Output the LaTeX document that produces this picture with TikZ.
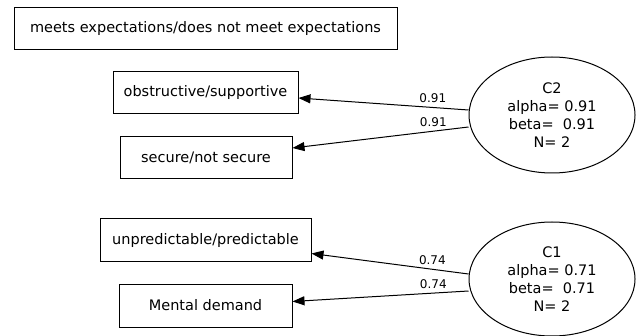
\documentclass[tikz,border=0pt]{standalone}
\usepackage{fontspec}
\setmainfont{DejaVu Sans}
\usetikzlibrary{arrows.meta,shapes.geometric,calc}

\begin{document}
\begin{tikzpicture}[x=1pt,y=-1pt,
  box/.style={draw, line width=1pt, minimum height=42pt, inner sep=0pt,
    font=\fontsize{14.5}{16}\selectfont},
  factor/.style={ellipse, draw, line width=1pt, inner sep=0pt, align=center,
    minimum width=166pt, minimum height=116pt,
    font=\fontsize{14.5}{18}\selectfont},
  load/.style={-{Triangle[length=12pt,width=9pt]}, line width=1pt},
  lbl/.style={font=\fontsize{12}{13}\selectfont, inner sep=1pt, anchor=south, yshift=3pt}]
\useasboundingbox (0,0) rectangle (636,336);

% stand-alone item
\node[box, minimum width=383pt] (mee) at (205.5,29) {meets expectations/does not meet expectations};

% factor C2 and its items
\node[box, minimum width=185pt] (obs) at (205.5,93) {obstructive/supportive};
\node[box, minimum width=172pt] (sec) at (206,158) {secure/not secure};
\node[factor] (c2) at (552,115) {C2\\alpha= 0.91\\beta=\ \ 0.91\\N= 2};

% factor C1 and its items
\node[box, minimum width=211pt, minimum height=43pt] (unp) at (205.5,240.5) {unpredictable/predictable};
\node[box, minimum width=173pt, minimum height=43pt] (men) at (205.5,305.5) {Mental demand};
\node[factor, minimum height=114pt] (c1) at (552,279) {C1\\alpha= 0.71\\beta=\ \ 0.71\\N= 2};

% loadings
\draw[load] ($(c2.west)+(0,-5)$) -- node[lbl, pos=0.21] {0.91} ($(obs.east)+(0,5)$);
\draw[load] ($(c2.west)+(0,12)$) -- node[lbl, pos=0.2] {0.91} ($(sec.east)+(0,-10)$);
\draw[load] ($(c1.west)+(0,-5)$) -- node[lbl, pos=0.23] {0.74} ($(unp.east)+(0,13)$);
\draw[load] ($(c1.west)+(0,12)$) -- node[lbl, pos=0.2] {0.74} ($(men.east)+(0,-4)$);
\end{tikzpicture}
\end{document}
